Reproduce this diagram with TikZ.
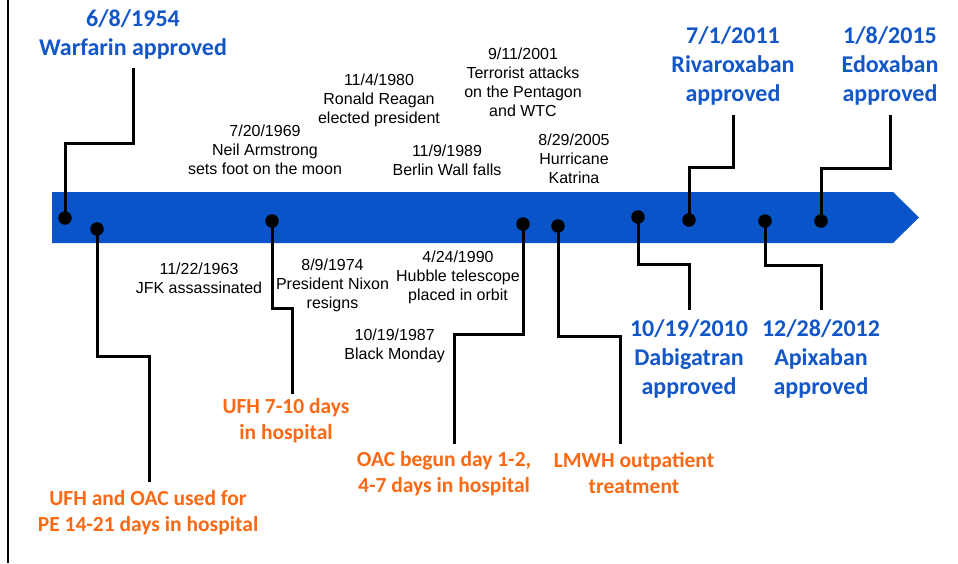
\documentclass[tikz,border=0pt]{standalone}
\usepackage{fontspec}
\setmainfont{Liberation Sans}
\newfontfamily\calfont{Carlito}
\definecolor{bandblue}{RGB}{8,84,200}
\definecolor{txtblue}{RGB}{18,86,200}
\definecolor{txtorange}{RGB}{250,105,20}
\begin{document}
\begin{tikzpicture}[x=1pt,y=-1pt,
  evt/.style={inner sep=0pt,align=center,font=\fontsize{16}{19}\selectfont},
  drug/.style={inner sep=0pt,align=center,text=txtblue,font=\calfont\bfseries\fontsize{24}{29}\selectfont},
  care/.style={inner sep=0pt,align=center,text=txtorange,font=\calfont\bfseries\fontsize{21.5}{26.5}\selectfont},
  dot/.style={circle,fill=black,inner sep=0pt,minimum size=13.5pt},
  conn/.style={line width=3pt,line join=miter}]
\useasboundingbox (0,0) rectangle (958,563);
\fill[white] (0,0) rectangle (958,563);
\draw[line width=2pt] (8,0) -- (8,563);
% band
\fill[bandblue] (52,192) -- (893,192) -- (919,217.5) -- (893,243) -- (52,243) -- cycle;
% dots
\node[dot] (d1) at (65,218) {};
\node[dot] (d2) at (97,229) {};
\node[dot] (d3) at (272,221) {};
\node[dot] (d4) at (523,224) {};
\node[dot] (d5) at (558,226) {};
\node[dot] (d6) at (638,217) {};
\node[dot] (d7) at (689,220) {};
\node[dot] (d8) at (765,221) {};
\node[dot] (d9) at (821,221) {};
% drug labels
\node[drug] (warf) at (133,34) {6/8/1954\\Warfarin approved};
\node[drug] (riva) at (733,66) {7/1/2011\\Rivaroxaban\\approved};
\node[drug] (edox) at (890,66) {1/8/2015\\Edoxaban\\approved};
\node[drug] (dabi) at (689,359) {10/19/2010\\Dabigatran\\approved};
\node[drug] (apix) at (821,359) {12/28/2012\\Apixaban\\approved};
% care labels
\node[care] (ufhoac) at (148,512.5) {UFH and OAC used for\\PE 14-21 days in hospital};
\node[care] (ufh) at (286,420.5) {UFH 7-10 days\\in hospital};
\node[care] (oac) at (444,473.5) {OAC begun day 1-2,\\4-7 days in hospital};
\node[care] (lmwh) at (634,473) {LMWH outpatient\\treatment};
% events
\node[evt] (jfk) at (199,278) {11/22/1963\\JFK assassinated};
\node[evt] (nixon) at (332.5,285.5) {8/9/1974\\President Nixon\\resigns};
\node[evt] (hubble) at (458,277.5) {4/24/1990\\Hubble telescope\\placed in orbit};
\node[evt] (black) at (394.7,346) {10/19/1987\\Black Monday};
\node[evt] (moon) at (265,150) {7/20/1969\\Neil Armstrong\\sets foot on the moon};
\node[evt] (reagan) at (379,100) {11/4/1980\\Ronald Reagan\\elected president};
\node[evt] (wtc) at (523,82) {9/11/2001\\Terrorist attacks\\on the Pentagon\\and WTC};
\node[evt] (berlin) at (447,160) {11/9/1989\\Berlin Wall falls};
\node[evt] (katrina) at (574,159) {8/29/2005\\Hurricane\\Katrina};
% connector ends
\coordinate (e1) at (133,68);
\coordinate (e2) at (149,482);
\coordinate (e3) at (292,394);
\coordinate (e4) at (454,444);
\coordinate (e5) at (620,444);
\coordinate (e6) at (689,310);
\coordinate (e7) at (733,115);
\coordinate (e8) at (821,310);
\coordinate (e9) at (890,115);
% connectors
\draw[conn] (d1.center) -- (65,143) -| (e1);
\draw[conn] (d2.center) -- (97,356) -| (e2);
\draw[conn] (d3.center) -- (272,308) -| (e3);
\draw[conn] (d4.center) -- (523,334) -| (e4);
\draw[conn] (d5.center) -- (558,336) -| (e5);
\draw[conn] (d6.center) -- (638,264) -| (e6);
\draw[conn] (d7.center) -- (689,167) -| (e7);
\draw[conn] (d8.center) -- (765,265) -| (e8);
\draw[conn] (d9.center) -- (821,168) -| (e9);
\end{tikzpicture}
\end{document}
